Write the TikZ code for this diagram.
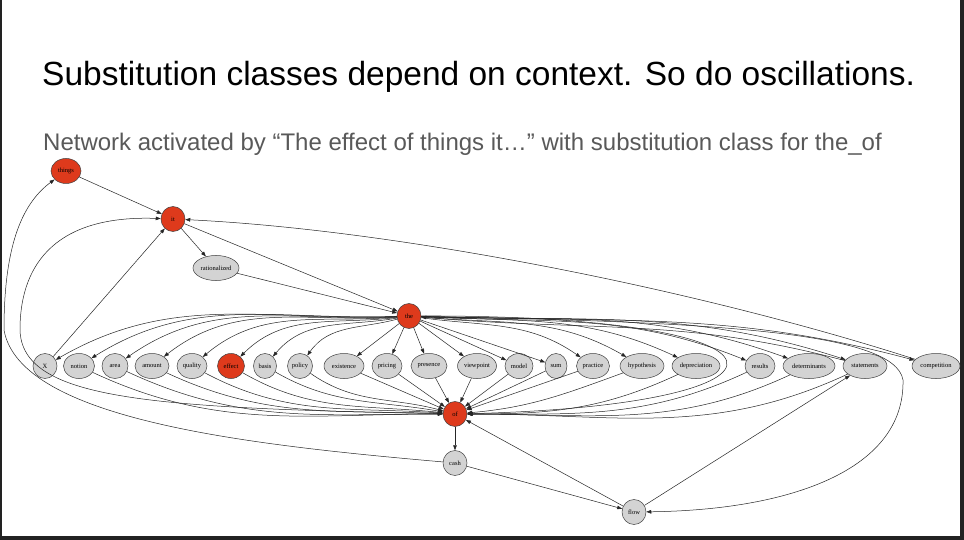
\documentclass[tikz,border=0pt]{standalone}
\usepackage{fontspec}
\setmainfont{Liberation Sans}
\newfontfamily\wordfont{Liberation Serif}
\usetikzlibrary{shapes.geometric,arrows.meta}
\definecolor{hotred}{RGB}{222,58,28}
\definecolor{nodegray}{RGB}{211,211,211}
\definecolor{subgray}{RGB}{89,89,89}
\definecolor{frame}{RGB}{34,34,34}
\tikzset{
  word/.style={ellipse, draw=black!75, fill=nodegray, inner sep=0pt, minimum height=25pt, line width=0.5pt, font=\wordfont\fontsize{6.5}{7}\selectfont},
  hot/.style={word, fill=hotred},
  arr/.style={-{Triangle[length=5pt,width=3.6pt]}, line width=0.5pt, black!85}
}
\begin{document}
\begin{tikzpicture}[x=1pt,y=1pt]
\path [use as bounding box] (0,0) rectangle (964,-540);
\fill [frame] (0,0) rectangle (964,-540);
\fill [white] (2,0) rectangle (960,-536);
\node [anchor=base west, inner sep=0pt, font=\fontsize{33.5}{40}\selectfont] (title) at (42,-86) {Substitution classes depend on context. So do oscillations.};
\node [anchor=base west, inner sep=0pt, text=subgray, font=\fontsize{24}{29}\selectfont] (subtitle) at (43,-151) {Network activated by “The effect of things it…” with substitution class for the\_of};
\node [hot, minimum width=30pt] (things) at (66,-171) {things};
\node [hot, minimum width=24pt] (it) at (173,-219) {it};
\node [word, minimum width=46pt] (rationalized) at (216,-268) {rationalized};
\node [hot, minimum width=24pt] (the) at (409,-316) {the};
\node [hot, minimum width=24pt] (of) at (455,-414) {of};
\node [word, minimum width=24pt] (cash) at (455,-463) {cash};
\node [word, minimum width=24pt] (flow) at (634,-512) {flow};
\node [word, minimum width=24pt] (X) at (45,-366) {X};
\node [word, minimum width=31pt] (notion) at (79,-366) {notion};
\node [word, minimum width=26pt] (area) at (115,-366) {area};
\node [word, minimum width=34pt] (amount) at (152,-366) {amount};
\node [word, minimum width=30pt] (quality) at (192,-366) {quality};
\node [hot, minimum width=27pt] (effect) at (231,-366) {effect};
\node [word, minimum width=23pt] (basis) at (265,-366) {basis};
\node [word, minimum width=25pt] (policy) at (300,-366) {policy};
\node [word, minimum width=40pt] (existence) at (344,-366) {existence};
\node [word, minimum width=30pt] (pricing) at (387,-366) {pricing};
\node [word, minimum width=36pt] (presence) at (429,-366) {presence};
\node [word, minimum width=39pt] (viewpoint) at (477,-366) {viewpoint};
\node [word, minimum width=28pt] (model) at (519,-366) {model};
\node [word, minimum width=22pt] (sum) at (556,-366) {sum};
\node [word, minimum width=33pt] (practice) at (593,-366) {practice};
\node [word, minimum width=44pt] (hypothesis) at (642,-366) {hypothesis};
\node [word, minimum width=48pt] (depreciation) at (696,-366) {depreciation};
\node [word, minimum width=30pt] (results) at (760,-366) {results};
\node [word, minimum width=52pt] (determinants) at (809,-366) {determinants};
\node [word, minimum width=44pt] (statements) at (865,-366) {statements};
\node [word, minimum width=48pt] (competition) at (936,-366) {competition};
\draw [arr] (things) -- (it);
\draw [arr] (it) -- (rationalized);
\draw [arr] (rationalized) -- (the);
\draw [arr] (it) -- (the);
\draw [arr] (X) -- (it);
\draw [arr] (competition) .. controls (700,-290) and (400,-230) .. (it);
\draw [arr] (cash) .. controls (250,-445) and (20,-420) .. (4,-330) .. controls (4,-250) and (20,-205) .. (things);
\draw [arr] (of) .. controls (150,-408) and (22,-400) .. (20,-330) .. controls (20,-260) and (60,-215) .. (it);
\draw [arr] (the) edge [out=182,in=30] (X) edge [out=182,in=32] (notion) edge [out=183,in=35] (area)
  edge [out=184,in=38] (amount) edge [out=185,in=40] (quality) edge [out=187,in=45] (effect)
  edge [out=190,in=50] (basis) edge [out=195,in=55] (policy) edge (existence) edge (pricing)
  edge (presence) edge (viewpoint) edge (model) edge (sum) edge [out=-8,in=145] (practice)
  edge [out=-5,in=150] (hypothesis) edge [out=-3,in=155] (depreciation) edge [out=-3,in=158] (results)
  edge [out=-2,in=160] (determinants) edge [out=-2,in=162] (statements) edge [out=-2,in=165] (competition);
\draw [arr] (notion) edge [out=-25,in=180] (of) (area) edge [out=-25,in=180] (of) (amount) edge [out=-25,in=178] (of)
  (quality) edge [out=-28,in=176] (of) (effect) edge [out=-30,in=174] (of) (basis) edge [out=-30,in=170] (of)
  (policy) edge [out=-35,in=165] (of) (existence) edge (of) (pricing) edge (of) (presence) edge (of)
  (viewpoint) edge (of) (model) edge (of) (sum) edge (of) (practice) edge (of)
  (hypothesis) edge [out=200,in=5] (of) (depreciation) edge [out=205,in=0] (of) (results) edge [out=205,in=0] (of)
  (determinants) edge [out=205,in=0] (of) (statements) edge [out=205,in=0] (of);
\draw [arr] (statements) to [out=165,in=-5] (the);
\draw [arr] (the) .. controls (820,-315) and (820,-405) .. (of);
\draw [arr] (the) .. controls (700,-322) and (895,-330) .. (903,-380) .. controls (905,-470) and (790,-510) .. (flow);
\draw [arr] (of) -- (cash);
\draw [arr] (cash) -- (flow);
\draw [arr] (flow) -- (of);
\draw [arr] (flow) -- (statements);
\end{tikzpicture}
\end{document}
